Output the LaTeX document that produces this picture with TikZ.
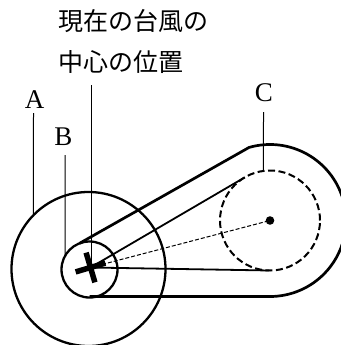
\documentclass[tikz,border=0pt]{standalone}
\usepackage{fontspec}
\setmainfont{Liberation Serif}
\newfontfamily\jfont{Noto Sans CJK JP}
\usetikzlibrary{calc}
\begin{document}
\begin{tikzpicture}[x=1pt,y=1pt,
  outline/.style={line width=2.7pt, line join=round},
  ring/.style={line width=2.3pt},
  tangentline/.style={line width=1.8pt},
  leader/.style={line width=1pt},
  lbl/.style={font=\fontsize{27}{27}\selectfont, inner sep=0pt, anchor=base},
  jlbl/.style={font=\jfont\fontsize{25}{25}\selectfont, inner sep=0pt, anchor=base west},
]
\useasboundingbox (0,0) rectangle (340,-345);
\coordinate (X) at (90.5,-267.5);
\coordinate (Bc) at (89.5,-269.5);
\coordinate (Ac) at (88.5,-269);
\coordinate (Cc) at (270,-220.5);
% outer region
\draw[outline] ($(Bc)+(111:28pt)$) -- ($(Cc)+(106:76pt)$)
  arc[start angle=106, end angle=-90, radius=76pt] -- (89.5,-296.5);
% circles
\draw[ring] (Ac) circle[radius=77pt];
\draw[ring] (Bc) circle[radius=28pt];
\draw[line width=2pt, dash pattern=on 7pt off 3.5pt] (Cc) circle[radius=50pt];
\fill (Cc) circle[radius=4.3pt];
% tangent lines and centre line
\coordinate (T1) at ($(X)+(30.3:178.7pt)$);
\coordinate (T2) at ($(X)+(-0.96:178.7pt)$);
\draw[tangentline] (X) -- (T1);
\draw[tangentline] (X) -- (T2);
\draw[line width=1pt, dash pattern=on 4pt off 2pt] (X) -- (Cc);
% cross
\draw[line width=5.5pt] ($(X)+(16.5:15.5pt)$) -- ($(X)+(196.5:15.5pt)$);
\draw[line width=5.5pt] ($(X)+(106.5:15.5pt)$) -- ($(X)+(286.5:15.5pt)$);
% labels
\node[jlbl] (t1) at (58,-31) {現在の台風の};
\node[jlbl] (t2) at (58,-71) {中心の位置};
\node[lbl] (la) at (34.5,-108) {A};
\node[lbl] (lb) at (63.5,-145) {B};
\node[lbl] (lc) at (264,-101) {C};
% leaders
\draw[leader] (33.5,-113) -- ($(Ac)+(135.6:77pt)$);
\draw[leader] (65,-155) -- ($(Bc)+(151:28pt)$);
\draw[leader] (263.5,-112) -- ($(Cc)+(97.5:50pt)$);
\draw[leader] (91.5,-85) -- (91.5,-267.5);
\end{tikzpicture}
\end{document}
